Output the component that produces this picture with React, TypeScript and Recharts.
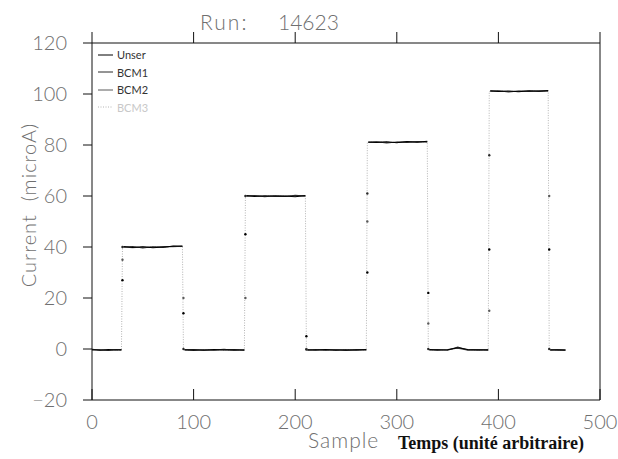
import { Legend, Line, LineChart, XAxis, YAxis } from 'recharts'

// sample index (x) for every point, shared by all four monitors.
// the x.5 entries only break the dark traces around a step (null there)
const samples = [
  0, 8, 16, 24, 29, 29.5, 30, 30.5, 31, 40, 50, 60, 70, 80, 89, 89.5, 90, 90.5, 91,
  100, 110, 120, 130, 140, 150, 150.5, 151, 151.5, 152, 160, 170, 180, 190, 200, 210, 210.5, 211, 211.5, 212,
  220, 230, 240, 250, 260, 270, 270.5, 271, 271.5, 272, 280, 290, 300, 310, 320, 330, 330.5, 331, 331.5, 332,
  340, 350, 360, 370, 380, 390, 390.5, 391, 391.5, 392, 400, 410, 420, 430, 440, 449, 449.5, 450, 450.5, 451,
  458, 466,
]

// samples where the beam current was switching
const stepSamples = [30, 90, 151, 211, 271, 331, 391, 450]

const N = null

const unser = [
  -0.3, -0.5, -0.2, -0.4, -0.3, N, 27, N, 40.2, 39.8, 40.1, 39.7, 40.0, 40.3, 40.4, N, 14, N, -0.4,
  -0.3, -0.5, -0.2, -0.4, -0.3, -0.5, N, 45, N, 60.2, 59.8, 60.1, 59.9, 60.0, 59.7, 60.2, N, 5, N, -0.3,
  -0.4, -0.2, -0.5, -0.3, -0.4, -0.2, N, 30, N, 81.2, 81.0, 81.3, 80.9, 81.4, 81.1, 81.5, N, 22, N, -0.2,
  -0.4, -0.3, 0.5, -0.2, -0.4, -0.3, N, 39, N, 101.3, 101.0, 101.2, 100.9, 101.3, 101.1, 101.4, N, 39, N, -0.3,
  -0.4, -0.5,
]

const bcm1 = [
  -0.1, -0.4, -0.6, -0.2, -0.5, N, 40, N, 39.9, 40.2, 39.6, 40.1, 39.8, 40.4, 40.2, N, 0, N, -0.2,
  -0.6, -0.3, -0.4, -0.1, -0.5, -0.3, N, 60, N, 59.9, 60.2, 59.7, 60.1, 59.8, 60.3, 60.0, N, -0.2, N, -0.5,
  -0.2, -0.5, -0.3, -0.6, -0.2, -0.4, N, 61, N, 81.0, 81.3, 80.8, 81.2, 81.0, 81.4, 81.2, N, 0, N, -0.4,
  -0.2, -0.5, 0.8, -0.4, -0.3, -0.5, N, 76, N, 101.1, 101.3, 100.8, 101.2, 101.0, 101.3, 101.2, N, 0, N, -0.5,
  -0.3, -0.4,
]

const bcm2 = [
  -0.4, -0.2, -0.5, -0.3, -0.2, N, 35, N, 40.0, 39.7, 40.0, 39.9, 40.2, 40.1, 40.3, N, 20, N, -0.3,
  -0.2, -0.4, -0.5, -0.3, -0.2, -0.4, N, 20, N, 60.0, 60.1, 59.8, 60.0, 59.9, 60.1, 59.9, N, 0, N, -0.4,
  -0.5, -0.3, -0.2, -0.4, -0.5, -0.3, N, 50, N, 81.1, 81.2, 81.0, 81.1, 81.3, 81.2, 81.3, N, 10, N, -0.3,
  -0.5, -0.2, 0.3, -0.5, -0.2, -0.4, N, 15, N, 101.2, 101.1, 101.0, 101.1, 101.2, 101.0, 101.3, N, 60, N, -0.4,
  -0.2, -0.3,
]

const bcm3 = [
  -0.2, -0.3, -0.4, -0.5, -0.4, N, 40, N, 40.1, 40.0, 39.8, 40.2, 40.0, 40.2, 40.1, N, 0, N, -0.5,
  -0.4, -0.2, -0.3, -0.5, -0.4, -0.2, N, 60, N, 60.1, 60.0, 59.9, 60.2, 60.0, 59.8, 60.1, N, 0, N, -0.2,
  -0.3, -0.4, -0.4, -0.2, -0.3, -0.5, N, 81, N, 81.3, 81.1, 81.2, 81.0, 81.2, 81.3, 81.1, N, 0, N, -0.5,
  -0.3, -0.4, 0.4, -0.3, -0.5, -0.2, N, 101, N, 101.0, 101.2, 101.1, 100.9, 101.2, 101.1, 101.0, N, 0, N, -0.2,
  -0.5, -0.4,
]

const xTicks = [0, 100, 200, 300, 400, 500]
const yTicks = [-20, 0, 20, 40, 60, 80, 100, 120]

const series = [
  { key: 'unser', name: 'Unser', color: '#000000', dash: undefined, dark: true },
  { key: 'bcm1', name: 'BCM1', color: '#2a2a2a', dash: undefined, dark: true },
  { key: 'bcm2', name: 'BCM2', color: '#5a5a5a', dash: undefined, dark: true },
  { key: 'bcm3', name: 'BCM3', color: '#b4b4b4', dash: '1 1.5', dark: false },
]

const data = samples.map((s, i) => ({
  sample: s,
  unser: unser[i],
  bcm1: bcm1[i],
  bcm2: bcm2[i],
  bcm3: bcm3[i],
}))

const FONT = "Lato, 'DejaVu Sans', sans-serif"
const TEXT = '#6f6f6f'
const AXIS = '#111'

// bottom ticks point inward (tickSize -11), labels hang below the axis
const BottomTick = (p: any) => (
  <text x={p.x} y={p.y + 40} textAnchor="middle" fontSize={20} fill={TEXT} fontFamily={FONT} fontWeight={300}>
    {p.payload.value}
  </text>
)

const LeftTick = (p: any) => (
  <text x={p.x - 16} y={p.y + 7} textAnchor="end" fontSize={20} fill={TEXT} fontFamily={FONT} fontWeight={300}>
    {p.payload.value < 0 ? `\u2212${-p.payload.value}` : p.payload.value}
  </text>
)

const NoLabel = () => <g />

const axisLine = { stroke: AXIS, strokeWidth: 1 }
const tickLine = { stroke: AXIS, strokeWidth: 1 }

const stepDot = (color: string) => (p: any) =>
  stepSamples.includes(p.payload.sample) && p.value != null ? (
    <circle key={p.index} cx={p.cx} cy={p.cy} r={1.2} fill={color} />
  ) : (
    <g key={p.index} />
  )

const renderLegend = () => (
  <div style={{ fontFamily: FONT, fontSize: 11, lineHeight: '17.5px' }}>
    {series.map((s) => (
      <div key={s.key} style={{ display: 'flex', alignItems: 'center', color: s.dark ? '#333' : '#c8c8c8' }}>
        <svg width={16} height={4} style={{ marginRight: 3 }}>
          <line x1={0} y1={2} x2={15} y2={2} stroke={s.color} strokeDasharray={s.dash} />
        </svg>
        {s.name}
      </div>
    ))}
  </div>
)

export default function App() {
  return (
    <div style={{ position: 'absolute', left: 0, top: 0, width: 618, height: 459, background: '#fff' }}>
      <LineChart width={618} height={459} data={data} margin={{ top: 42, right: 17, bottom: 58, left: 91 }}>
        <XAxis
          dataKey="sample"
          type="number"
          domain={[0, 500]}
          ticks={xTicks}
          height={1}
          tickSize={-11}
          tickMargin={0}
          tickLine={tickLine}
          axisLine={axisLine}
          tick={BottomTick}
        />
        <XAxis
          xAxisId="top"
          orientation="top"
          dataKey="sample"
          type="number"
          domain={[0, 500]}
          ticks={xTicks}
          height={1}
          tickSize={11}
          tickMargin={0}
          tickLine={tickLine}
          axisLine={axisLine}
          tick={NoLabel}
        />
        <YAxis
          type="number"
          domain={[-20, 120]}
          ticks={yTicks}
          width={1}
          tickSize={9}
          tickMargin={0}
          tickLine={tickLine}
          axisLine={axisLine}
          tick={LeftTick}
        />
        <YAxis
          yAxisId="right"
          orientation="right"
          type="number"
          domain={[-20, 120]}
          ticks={yTicks}
          width={1}
          tickSize={8}
          tickMargin={0}
          tickLine={tickLine}
          axisLine={axisLine}
          tick={NoLabel}
        />
        <Legend
          layout="vertical"
          align="center"
          verticalAlign="middle"
          content={renderLegend}
          wrapperStyle={{ left: 98, top: 46, width: 80 }}
        />
        {series
          .slice()
          .reverse()
          .map((s) => (
            <Line
              key={s.key}
              dataKey={s.key}
              name={s.name}
              type="linear"
              stroke={s.color}
              strokeWidth={s.dark ? 1.1 : 1}
              strokeDasharray={s.dash}
              connectNulls={!s.dark}
              dot={s.dark ? stepDot(s.color) : false}
              activeDot={false}
              isAnimationActive={false}
            />
          ))}
      </LineChart>
      <div
        style={{ position: 'absolute', left: 200, top: 9, fontFamily: FONT, fontWeight: 300, fontSize: 21, color: TEXT, letterSpacing: 2 }}
      >
        Run:
      </div>
      <div
        style={{ position: 'absolute', left: 278, top: 9, fontFamily: FONT, fontWeight: 300, fontSize: 21, color: TEXT }}
      >
        14623
      </div>
      <div
        style={{
          position: 'absolute',
          left: 28,
          top: 205,
          transform: 'translate(-50%, -50%) rotate(-90deg)',
          fontFamily: FONT,
          fontWeight: 300,
          fontSize: 20,
          letterSpacing: 1,
          color: TEXT,
          whiteSpace: 'pre',
        }}
      >
        Current  (microA)
      </div>
      <div
        style={{ position: 'absolute', left: 308, top: 427, fontFamily: FONT, fontWeight: 300, fontSize: 21, letterSpacing: 1, color: TEXT }}
      >
        Sample
      </div>
      <div
        style={{
          position: 'absolute',
          left: 398,
          top: 433,
          fontFamily: "'Liberation Serif', 'DejaVu Serif', serif",
          fontWeight: 700,
          fontSize: 18,
          color: '#111',
          whiteSpace: 'pre',
        }}
      >
        Temps (unité arbitraire)
      </div>
    </div>
  )
}
